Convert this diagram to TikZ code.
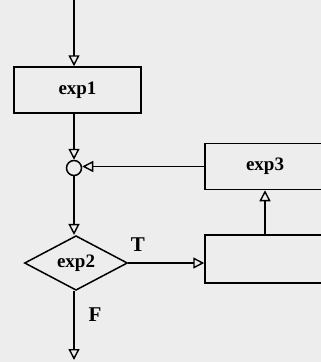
\documentclass[tikz,border=0pt]{standalone}
\usepackage{fontspec}
\setmainfont{Liberation Serif}
\usepackage{tikz}
\usetikzlibrary{shapes.geometric, arrows.meta, positioning, calc}

\tikzset{
	flow/.style={line width=1.5pt, -{Triangle[open, length=11pt, width=11pt, line width=1.4pt]}},
	stmt/.style={draw, line width=1.5pt, minimum width=127pt, minimum height=46pt, inner sep=0pt, font=\fontsize{19}{22}\selectfont\bfseries},
	cond/.style={draw, diamond, line width=1.5pt, minimum width=103pt, minimum height=53pt, inner sep=0pt, font=\fontsize{19}{22}\selectfont\bfseries},
	lbl/.style={font=\fontsize{21}{24}\selectfont\bfseries}
}

\begin{document}
\begin{tikzpicture}[x=1pt, y=-1pt]
		% Clip everything to the page
		\useasboundingbox (0,0) rectangle (321,362);
		\clip (0,0) rectangle (321,362);
		\fill[black!7] (0,0) rectangle (321,362);
		
		% 1. Left column
		\coordinate (top) at (74,0);
		\node[stmt] (exp1) at (77.5,90) {exp1};
		\node[draw, circle, line width=1.5pt, minimum size=15pt, inner sep=0pt] (join) at (74,168) {};
		\node[cond] (exp2) at (76,263) {exp2};
		\coordinate (bottom) at (74,362);
		
		% 2. Right column (boxes run past the edge)
		\node[stmt, minimum width=120pt] (exp3) at (265,166.5) {exp3};
		\node[stmt, minimum width=120pt, minimum height=48pt] (body) at (265,259) {};
		
		% 3. Connectors
		\draw[flow] (top) -- (top |- exp1.north);
		\draw[flow] (join |- exp1.south) -- (join);
		\draw[flow] (join) -- (join |- exp2.north);
		\draw[flow] (join |- exp2.south) -- ($(bottom)+(0,-2)$);
		\draw[flow] (exp2.east) -- (body.west |- exp2.east);
		\draw[flow] (body.north) -- (exp3.south);
		\draw[flow] (exp3.west) -- (join.east |- exp3.west);
		
		% Branch labels
		\node[lbl] (t) at (138,245) {T};
		\node[lbl] (f) at (95,315) {F};
		
	\end{tikzpicture}
\end{document}
